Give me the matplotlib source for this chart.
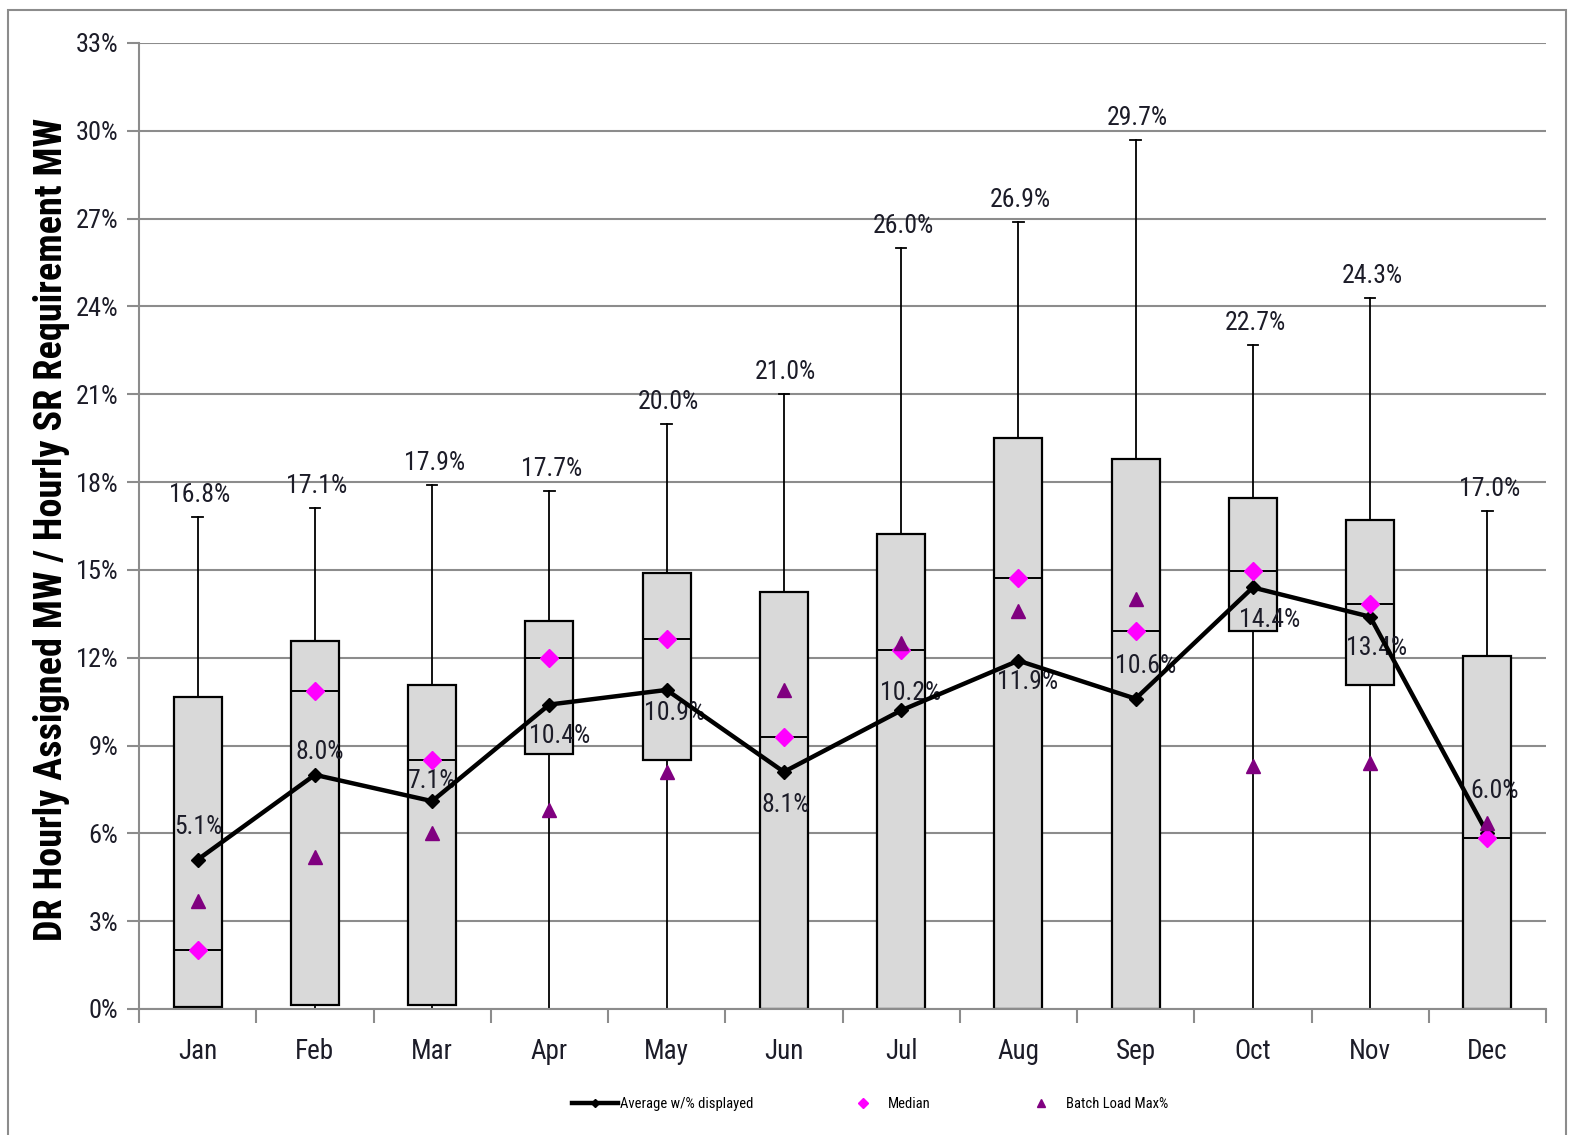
import matplotlib
matplotlib.use("Agg")
import matplotlib.pyplot as plt
from matplotlib.lines import Line2D
from matplotlib.patches import Rectangle
import numpy as np

# 月度统计（单位：%）
MONTHS = ["Jan", "Feb", "Mar", "Apr", "May", "Jun", "Jul", "Aug", "Sep", "Oct", "Nov", "Dec"]
MAX_VALS = [16.8, 17.1, 17.9, 17.7, 20.0, 21.0, 26.0, 26.9, 29.7, 22.7, 24.3, 17.0]
MIN_VALS = [0.0, 0.0, 0.0, 0.0, 0.0, 0.0, 0.0, 0.0, 0.0, 0.0, 0.0, 0.0]
Q1_VALS = [0.07, 0.14, 0.14, 8.72, 8.5, 0.0, 0.0, 0.0, 0.0, 12.9, 11.06, 0.0]
Q3_VALS = [10.65, 12.57, 11.06, 13.26, 14.9, 14.25, 16.24, 19.5, 18.78, 17.45, 16.72, 12.05]
MEDIAN_VALS = [2.0, 10.85, 8.5, 12.0, 12.64, 9.3, 12.26, 14.73, 12.9, 14.97, 13.84, 5.84]
AVERAGE_VALS = [5.1, 8.0, 7.1, 10.4, 10.9, 8.1, 10.2, 11.9, 10.6, 14.4, 13.4, 6.0]
BATCH_MAX_VALS = [3.7, 5.2, 6.0, 6.8, 8.1, 10.9, 12.5, 13.6, 14.0, 8.3, 8.4, 6.35]
Y_TICKS = list(range(0, 34, 3))

# 平均值标签的偏移（像素），照 Excel 原图摆放
AVG_LABEL_OFFSETS = [(1, 33), (5, 23), (0, 20), (10, -31), (8, -23), (2, -33),
                     (9, 17), (9, -21), (10, 33), (17, -33), (6, -31), (7, 42)]

plt.rcParams["font.family"] = ["Roboto Condensed", "DejaVu Sans"]

TEXT_COLOR = "#1c1c28"
GRID_COLOR = "#8c8c8c"

fig = plt.figure(figsize=(15.75, 11.35), dpi=100)
ax = fig.add_axes([139 / 1575, 1 - 1009 / 1135, (1546 - 139) / 1575, (1009 - 43) / 1135])

x = np.arange(len(MONTHS))
stats = [
    dict(med=m, q1=a, q3=b, whislo=lo, whishi=hi)
    for m, a, b, lo, hi in zip(MEDIAN_VALS, Q1_VALS, Q3_VALS, MIN_VALS, MAX_VALS)
]
ax.bxp(stats, positions=x, widths=0.41, patch_artist=True, showfliers=False,
       capwidths=0.09,
       boxprops=dict(facecolor="#d9d9d9", edgecolor="black", linewidth=1.6),
       medianprops=dict(color="black", linewidth=1.4),
       whiskerprops=dict(color="black", linewidth=1.3),
       capprops=dict(color="black", linewidth=1.3))

# 最大值标签
for xi, v in zip(x, MAX_VALS):
    ax.annotate(f"{v:.1f}%", (xi, v), xytext=(2, 22), textcoords="offset pixels",
                ha="center", va="center", fontsize=18.5, color=TEXT_COLOR, zorder=3)

# 平均值标签
for xi, v, (dx, dy) in zip(x, AVERAGE_VALS, AVG_LABEL_OFFSETS):
    ax.annotate(f"{v:.1f}%", (xi, v), xytext=(dx, dy), textcoords="offset pixels",
                ha="center", va="center", fontsize=18.5, color=TEXT_COLOR, zorder=3)

ax.plot(x, AVERAGE_VALS, color="black", linewidth=3.2, marker="D", markersize=7,
        zorder=4)
ax.plot(x, MEDIAN_VALS, linestyle="none", marker="D", markersize=9.5,
        color="#ff00ff", markeredgecolor="#ff00ff", zorder=5)
ax.plot(x, BATCH_MAX_VALS, linestyle="none", marker="^", markersize=10.5,
        color="#800080", markeredgecolor="#800080", zorder=6)

ax.set_xlim(-0.5, len(MONTHS) - 0.5)
ax.set_ylim(0, 33)
ax.set_yticks(Y_TICKS)
ax.set_yticklabels([f"{t}%" for t in Y_TICKS], fontsize=19, color=TEXT_COLOR)
ax.set_xticks(x)
ax.set_xticklabels(MONTHS, fontsize=19.5, color=TEXT_COLOR)
ax.set_xticks(np.arange(-0.5, len(MONTHS), 1), minor=True)
ax.tick_params(axis="x", which="major", length=0, pad=21)
ax.tick_params(axis="x", which="minor", length=10, width=1.5, color=GRID_COLOR)
ax.tick_params(axis="y", length=9, width=1.5, color=GRID_COLOR, pad=6)
ax.grid(True, axis="y", color=GRID_COLOR, linewidth=1.5)
ax.set_axisbelow(True)
for side in ("top", "right"):
    ax.spines[side].set_visible(False)
for side in ("left", "bottom"):
    ax.spines[side].set_color(GRID_COLOR)
    ax.spines[side].set_linewidth(1.5)

fig.text(52 / 1575, 1 - 529 / 1135, "DR Hourly Assigned MW / Hourly SR Requirement MW",
         rotation=90, ha="center", va="center", fontsize=27.5, fontweight="bold",
         color="black")

handles = [
    Line2D([], [], color="black", linewidth=3.2, marker="D", markersize=4),
    Line2D([], [], linestyle="none", marker="D", markersize=5, color="#ff00ff"),
    Line2D([], [], linestyle="none", marker="^", markersize=6, color="#800080"),
]
fig.legend(handles, ["Average w/% displayed", "Median", "Batch Load Max%"],
           loc="center", bbox_to_anchor=(870 / 1575, 1 - 1104 / 1135), ncol=3,
           frameon=False, fontsize=10.5, handlelength=3.15, handletextpad=0.1,
           columnspacing=6)

fig.add_artist(Rectangle((8 / 1575, -0.05), (1566 - 8) / 1575, 1.05 - 10 / 1135,
                         transform=fig.transFigure, fill=False,
                         edgecolor=GRID_COLOR, linewidth=1.5))

fig.savefig("out.png", dpi=100)
